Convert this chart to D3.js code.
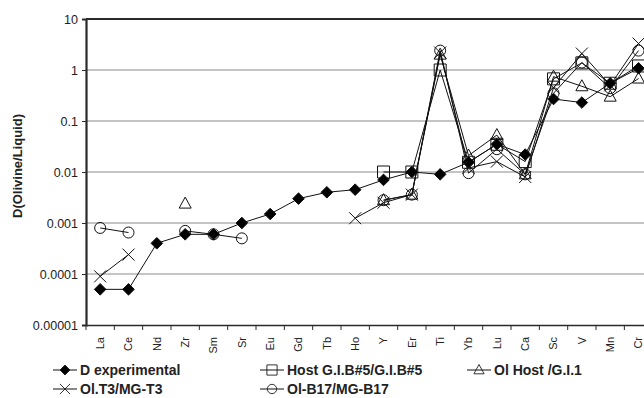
<!DOCTYPE html>
<html>
<head>
<meta charset="utf-8">
<script src="https://cdn.jsdelivr.net/npm/d3@7"></script>
<style>
  body { margin: 0; background: #fff; }
  svg { display: block; }
</style>
</head>
<body>
<div id="chart"></div>
<script>
// elements along the x axis
var elements = ["La", "Ce", "Nd", "Zr", "Sm", "Sr", "Eu", "Gd", "Tb", "Ho",
                "Y", "Er", "Ti", "Yb", "Lu", "Ca", "Sc", "V", "Mn", "Cr"];

var yTicks = [0.00001, 0.0001, 0.001, 0.01, 0.1, 1, 10];
var yTickLabels = ["0.00001", "0.0001", "0.001", "0.01", "0.1", "1", "10"];

// D values, null = no data
var dExperimental = [0.00005, 0.00005, 0.0004, 0.0006, 0.0006, 0.001, 0.0015, 0.003, 0.004, 0.0045,
                     0.007, 0.01, 0.009, 0.0155, 0.035, 0.022, 0.27, 0.23, 0.55, 1.08];
var hostGIB = [null, null, null, null, null, null, null, null, null, null,
               0.01, 0.01, 1.0, 0.0155, 0.035, 0.016, 0.67, 1.38, 0.55, 1.2];
var olHost = [null, null, null, 0.0024, null, null, null, null, null, null,
              0.0028, 0.0036, 2.0, 0.021, 0.053, 0.009, 0.74, 0.48, 0.30, 0.68];
var olT3 = [0.00009, 0.00024, null, null, null, null, null, null, null, 0.00124,
            0.0025, 0.0036, 2.2, 0.012, 0.016, 0.008, 0.45, 2.1, 0.5, 3.3];
var olB17 = [0.0008, 0.00065, null, 0.0007, 0.0006, 0.0005, null, null, null, null,
             0.0028, 0.0036, 2.4, 0.0095, 0.028, 0.009, 0.35, 1.4, 0.44, 2.4];

var seriesNames = ["D experimental", "Host G.I.B#5/G.I.B#5", "Ol Host /G.I.1", "Ol.T3/MG-T3", "Ol-B17/MG-B17"];
var seriesValues = [dExperimental, hostGIB, olHost, olT3, olB17];
var seriesMarkers = ["diamond", "square", "triangle", "x", "circle"];

var width = 644, height = 398;
var plotLeft = 86, plotRight = 652.7, plotTop = 19, plotBottom = 325;

var svg = d3.select("#chart").append("svg")
    .attr("width", width)
    .attr("height", height)
    .style("font-family", "'Liberation Sans', Arial, sans-serif");

var x = d3.scaleBand().domain(elements).range([plotLeft, plotRight]).padding(0);
var y = d3.scaleLog().domain([0.00001, 10]).range([plotBottom, plotTop]);

// marker path around 0,0
function markerPath(type) {
    if (type == "diamond") return "M0,-5.8L5.8,0L0,5.8L-5.8,0Z";
    if (type == "square") return "M-6,-6H6V6H-6Z";
    if (type == "triangle") return "M0,-6.5L6,4.5H-6Z";
    if (type == "x") return "M-6,-6L6,6M6,-6L-6,6";
    return "M5.5,0A5.5,5.5 0 1,1 -5.5,0A5.5,5.5 0 1,1 5.5,0Z";
}

// gridlines
svg.append("g")
    .selectAll("line")
    .data(yTicks.filter(function (d) { return d > 0.00001 && d < 10; }))
    .enter().append("line")
    .attr("x1", plotLeft).attr("x2", plotRight)
    .attr("y1", function (d) { return y(d); })
    .attr("y2", function (d) { return y(d); })
    .attr("stroke", "#8a8a8a")
    .attr("stroke-width", 1);

// top border
svg.append("line")
    .attr("x1", plotLeft).attr("x2", plotRight)
    .attr("y1", y(10)).attr("y2", y(10))
    .attr("stroke", "#2a2a2a").attr("stroke-width", 2.2);

// y axis
var yAxis = svg.append("g")
    .attr("transform", "translate(" + plotLeft + ",0)")
    .call(d3.axisLeft(y).tickValues(yTicks).tickSize(4).tickPadding(4)
        .tickFormat(function (d, i) { return yTickLabels[i]; }));
yAxis.select(".domain").attr("stroke", "#2a2a2a").attr("stroke-width", 2.2);
yAxis.selectAll(".tick line").attr("stroke", "#2a2a2a");
yAxis.selectAll("text")
    .attr("font-size", "12.5px")
    .attr("font-family", "'Liberation Sans', Arial, sans-serif")
    .attr("fill", "#222");

// x axis
var xAxis = svg.append("g")
    .attr("transform", "translate(0," + plotBottom + ")")
    .call(d3.axisBottom(x).tickSize(0).tickFormat(""));
xAxis.select(".domain").attr("stroke", "#2a2a2a").attr("stroke-width", 1.6);

svg.append("g")
    .selectAll("line")
    .data(d3.range(elements.length + 1))
    .enter().append("line")
    .attr("x1", function (d) { return plotLeft + d * x.step(); })
    .attr("x2", function (d) { return plotLeft + d * x.step(); })
    .attr("y1", plotBottom).attr("y2", plotBottom + 5)
    .attr("stroke", "#2a2a2a");

svg.append("g")
    .selectAll("text")
    .data(elements)
    .enter().append("text")
    .attr("transform", function (d) {
        return "translate(" + (x(d) + x.bandwidth() / 2) + "," + (plotBottom + 12) + ") rotate(-90)";
    })
    .attr("dy", "0.35em")
    .attr("text-anchor", "end")
    .attr("font-size", "11px")
    .attr("fill", "#222")
    .text(function (d) { return d; });

// y title
svg.append("text")
    .attr("transform", "translate(22,166) rotate(-90)")
    .attr("text-anchor", "middle")
    .attr("font-size", "13px")
    .attr("font-weight", "bold")
    .attr("fill", "#222")
    .text("D(Olivine/Liquid)");

// series lines, broken where data is missing
var line = d3.line()
    .defined(function (d) { return d != null; })
    .x(function (d, i) { return x(elements[i]) + x.bandwidth() / 2; })
    .y(function (d) { return y(d); });

var plot = svg.append("g");

var order = [1, 2, 3, 4, 0];
order.forEach(function (s) {
    var vals = seriesValues[s];
    plot.append("path")
        .attr("d", line(vals))
        .attr("fill", "none")
        .attr("stroke", "#111")
        .attr("stroke-width", 1);

    plot.append("g")
        .selectAll("path")
        .data(vals.map(function (v, i) { return {v: v, i: i}; })
            .filter(function (d) { return d.v != null; }))
        .enter().append("path")
        .attr("transform", function (d) {
            return "translate(" + (x(elements[d.i]) + x.bandwidth() / 2) + "," + y(d.v) + ")";
        })
        .attr("d", markerPath(seriesMarkers[s]))
        .attr("fill", seriesMarkers[s] == "diamond" ? "#000" : "none")
        .attr("stroke", "#111")
        .attr("stroke-width", 1);
});

// legend
var legendX = [53, 260, 467, 53, 260];
var legendY = [370, 370, 370, 389, 389];

var legend = svg.append("g")
    .selectAll("g")
    .data(seriesNames)
    .enter().append("g")
    .attr("transform", function (d, i) { return "translate(" + legendX[i] + "," + legendY[i] + ")"; });

legend.append("line")
    .attr("x1", 0).attr("x2", 24)
    .attr("stroke", "#111").attr("stroke-width", 1);

legend.append("path")
    .attr("transform", "translate(12,0) scale(0.85)")
    .attr("d", function (d, i) { return markerPath(seriesMarkers[i]); })
    .attr("fill", function (d, i) { return seriesMarkers[i] == "diamond" ? "#000" : "none"; })
    .attr("stroke", "#111");

legend.append("text")
    .attr("x", 27)
    .attr("dy", "0.36em")
    .attr("font-size", "14px")
    .attr("font-weight", "bold")
    .attr("fill", "#222")
    .text(function (d) { return d; });
</script>
</body>
</html>
